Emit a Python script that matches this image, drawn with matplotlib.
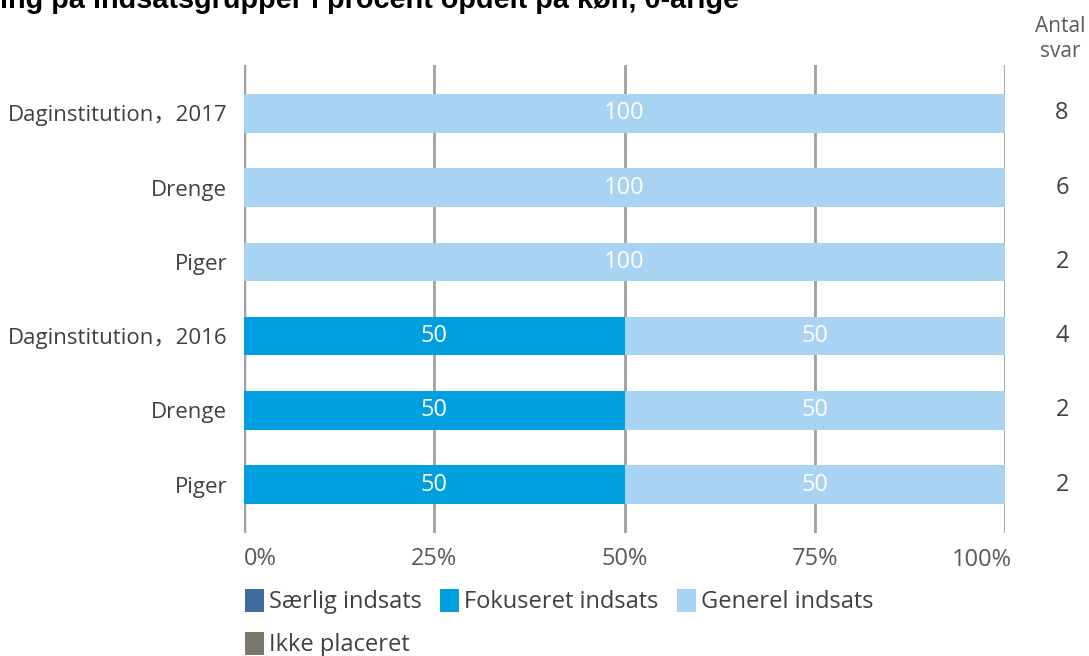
import matplotlib
matplotlib.use("Agg")
from matplotlib import pyplot as plt
from matplotlib.patches import Patch
from matplotlib.transforms import ScaledTranslation
import numpy as np

## Data
categories = ["Daginstitution，2017", "Drenge", "Piger",
              "Daginstitution，2016", "Drenge", "Piger"]
saerlig = [0, 0, 0, 0, 0, 0]
fokuseret = [0, 0, 0, 50, 50, 50]
generel = [100, 100, 100, 50, 50, 50]
ikke = [0, 0, 0, 0, 0, 0]
antal = [8, 6, 2, 4, 2, 2]
series_names = ["Særlig indsats", "Fokuseret indsats", "Generel indsats", "Ikke placeret"]
colors = ["#3E6A9C", "#009FDF", "#A9D3F3", "#78776A"]
xticks = [0, 25, 50, 75, 100]
title = "ing på indsatsgrupper i procent opdelt på køn, 0-årige"

font = ["Open Sans", "Noto Sans CJK SC", "DejaVu Sans"]
plt.rcParams['font.family'] = font
grey_txt = "#595959"

fig = plt.figure(figsize=(10.89, 6.56), dpi=100)
ax = fig.add_axes([244/1089, 1 - 533/656, 761/1089, 468/656])

y = np.arange(len(categories))
left = np.zeros(len(categories))
for vals, name, col in zip([saerlig, fokuseret, generel, ikke], series_names, colors):
    vals = np.array(vals, dtype=float)
    ax.barh(y, vals, left=left, height=0.52, color=col, zorder=2, label=name)
    for yi, v, l in zip(y, vals, left):
        if v > 0:
            ax.text(l + v/2, yi, f"{v:g}", color="white", ha="center", va="center",
                    fontsize=17, zorder=3)
    left += vals

ax.set_xlim(0, 100)
ax.set_ylim(len(categories) - 0.35, -0.65)
ax.set_xticks(xticks)
# last label drawn by hand so it can sit a little past the axis end
ax.set_xticklabels([f"{t}%" for t in xticks[:-1]] + [""], color=grey_txt, fontsize=17)
ax.get_xticklabels()[0].set_ha("left")
ax.text(xticks[-1], -0.0585, f"{xticks[-1]}%", ha="right", va="center", fontsize=17,
        color=grey_txt,
        transform=ax.get_xaxis_transform() + ScaledTranslation(0.07, 0, fig.dpi_scale_trans))
ax.set_yticks(y)
ax.set_yticklabels(categories, color="#404040", fontsize=16)
ax.tick_params(length=0, pad=12)
ax.tick_params(axis='x', pad=10)
for t in xticks:
    ax.axvline(t, color="#A0A0A0", lw=2 if t else 2.5, zorder=1)
for s in ax.spines.values():
    s.set_visible(False)

# antal svar column
for yi, n in zip(y, antal):
    ax.text(1.075, yi, str(n), transform=ax.get_yaxis_transform(), ha="center",
            va="center", fontsize=17, color="#404040")
fig.text(1060/1089, 1 - 39/656, "Antal\nsvar", ha="center", va="center",
         fontsize=15, color=grey_txt, linespacing=1.25)

fig.text(0.0, 1 - 8/656, title, ha="left", va="baseline", fontsize=20.8,
         fontweight="bold", family="Liberation Sans", color="black")

handles = [Patch(facecolor=c, label=n) for c, n in zip(colors, series_names)]
order = [0, 3, 1, 2]
fig.legend([handles[i] for i in order], [series_names[i] for i in order],
           ncol=3, loc="upper left", bbox_to_anchor=(245/1089, 1 - 589/656),
           frameon=False, fontsize=17, handlelength=0.8, handleheight=1.1,
           handletextpad=0.2, columnspacing=0.8, labelspacing=0.75,
           borderaxespad=0, borderpad=0, labelcolor="#404040")

fig.savefig("out.png", dpi=100)
